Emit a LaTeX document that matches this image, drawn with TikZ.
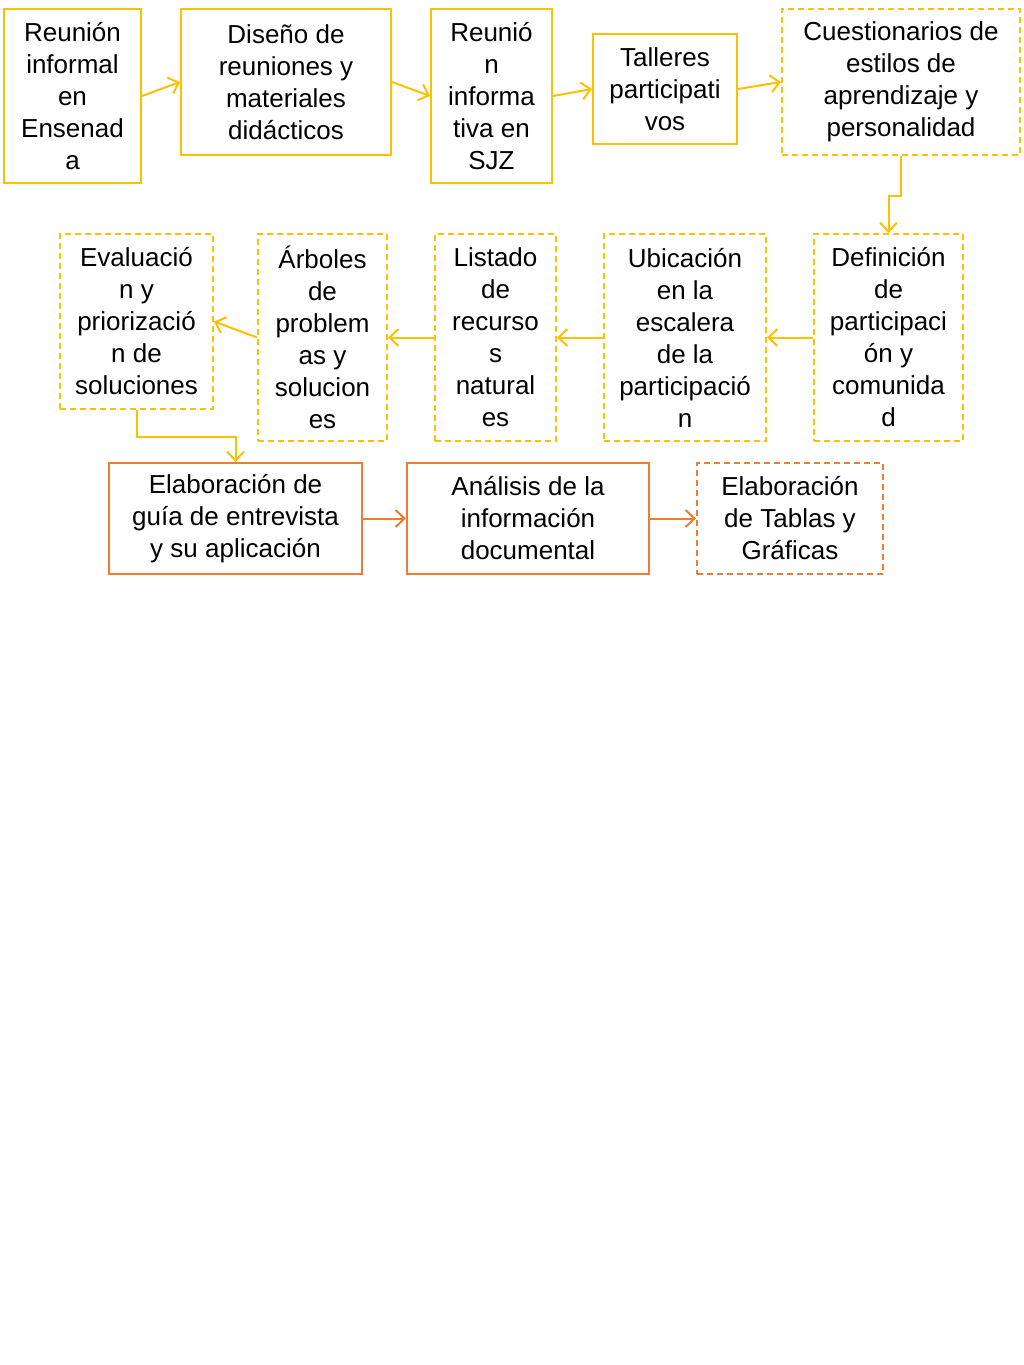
\documentclass[tikz,border=0pt]{standalone}
\usepackage{fontspec}
\setmainfont{Liberation Sans}
\usetikzlibrary{arrows.meta}
\definecolor{yel}{HTML}{FFC000}
\definecolor{org}{HTML}{ED7D31}
\begin{document}
\begin{tikzpicture}[x=1pt,y=-1pt,
  box/.style={draw, line width=2pt, inner sep=0pt, align=center,
    font=\fontsize{26}{32}\selectfont, text=black},
  ybox/.style={box, draw=yel},
  obox/.style={box, draw=org},
  dsh/.style={dash pattern=on 6pt off 4pt},
  sz/.style 2 args={minimum width=#1, minimum height=#2},
  arr/.style={line width=2pt, -{Straight Barb[length=9pt,width=17pt,line width=2pt]}},
  yarr/.style={arr, draw=yel},
  oarr/.style={arr, draw=org}]
\useasboundingbox[fill=white] (0,0) rectangle (1024,1365);
% row 1
\node[ybox, sz={137}{174}] (A) at (72.5,96) {Reunión\\informal\\en\\Ensenad\\a};
\node[ybox, sz={210}{146}] (B) at (286,82) {Diseño de\\reuniones y\\materiales\\didácticos};
\node[ybox, sz={121}{174}] (C) at (491.5,96) {Reunió\\n\\informa\\tiva en\\SJZ};
\node[ybox, sz={144}{110}] (D) at (665,89) {Talleres\\participati\\vos};
\node[ybox, dsh, sz={238}{146}] (E) at (901,82) {Cuestionarios de\\estilos de\\aprendizaje y\\personalidad};
% row 2
\node[ybox, dsh, sz={149}{207}] (F) at (888.5,337.5) {Definición\\de\\participaci\\ón y\\comunida\\d};
\node[ybox, dsh, sz={162}{207}] (G) at (685,337.5) {Ubicación\\en la\\escalera\\de la\\participació\\n};
\node[ybox, dsh, sz={121}{207}] (H) at (495.5,337.5) {Listado\\de\\recurso\\s\\natural\\es};
\node[ybox, dsh, sz={129}{207}] (I) at (322.5,337.5) {Árboles\\de\\problem\\as y\\solucion\\es};
\node[ybox, dsh, sz={153}{175}] (J) at (136.5,321.5) {Evaluació\\n y\\priorizació\\n de\\soluciones};
% row 3
\node[obox, sz={253}{111}] (K) at (235.5,518.5) {Elaboración de\\guía de entrevista\\y su aplicación};
\node[obox, sz={242}{111}] (L) at (528,518.5) {Análisis de la\\información\\documental};
\node[obox, dsh, sz={186}{111}] (M) at (790,518.5) {Elaboración\\de Tablas y\\Gráficas};
% connectors
\draw[yarr] (A.east) -- (B.west);
\draw[yarr] (B.east) -- (C.west);
\draw[yarr] (C.east) -- (D.west);
\draw[yarr] (D.east) -- (E.west);
\draw[yarr] (E.south) -- ++(0,40) -| (F.north);
\draw[yarr] (F.west) -- (G.east);
\draw[yarr] (G.west) -- (H.east);
\draw[yarr] (H.west) -- (I.east);
\draw[yarr] (I.west) -- (J.east);
\draw[yarr] (J.south) -- ++(0,27) -| (K.north);
\draw[oarr] (K.east) -- (L.west);
\draw[oarr] (L.east) -- (M.west);
\end{tikzpicture}
\end{document}
